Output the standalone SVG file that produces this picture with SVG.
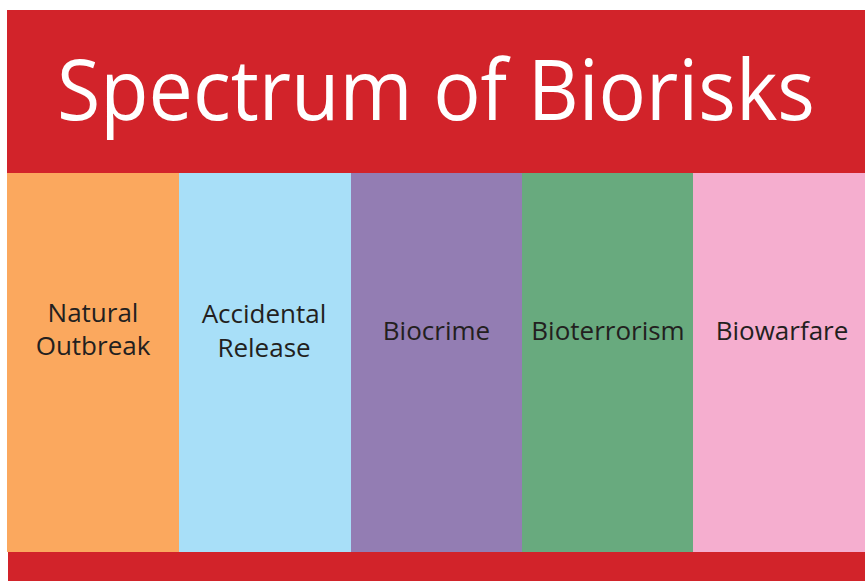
<svg xmlns="http://www.w3.org/2000/svg" width="865" height="581" viewBox="0 0 865 581">
<style>
.lbl{font-family:"Open Sans","Noto Sans",sans-serif;font-size:26px;fill:#231F20;text-anchor:middle}
.title{font-family:"Open Sans","Noto Sans",sans-serif;font-size:84px;fill:#FFFFFF}
</style>
<rect x="0" y="0" width="865" height="581" fill="#FFFFFF"/>
<g id="header">
<rect x="7" y="10" width="858" height="163" fill="#D2232A"/>
<text class="title" x="57" y="120" textLength="758" lengthAdjust="spacingAndGlyphs">Spectrum of Biorisks</text>
</g>
<g id="natural-outbreak">
<rect x="7" y="173" width="172" height="379" fill="#FBA85E"/>
<text class="lbl" x="93" y="322">Natural</text>
<text class="lbl" x="93" y="355">Outbreak</text>
</g>
<g id="accidental-release">
<rect x="179" y="173" width="172" height="379" fill="#A8DFF8"/>
<text class="lbl" x="264" y="323">Accidental</text>
<text class="lbl" x="264" y="357">Release</text>
</g>
<g id="biocrime">
<rect x="351" y="173" width="171" height="379" fill="#937DB3"/>
<text class="lbl" x="436.5" y="340">Biocrime</text>
</g>
<g id="bioterrorism">
<rect x="522" y="173" width="171" height="379" fill="#68AA7E"/>
<text class="lbl" x="608" y="340">Bioterrorism</text>
</g>
<g id="biowarfare">
<rect x="693" y="173" width="172" height="379" fill="#F5AECF"/>
<text class="lbl" x="782" y="340">Biowarfare</text>
</g>
<g id="footer">
<rect x="8" y="552" width="857" height="29" fill="#D2232A"/>
</g>
<g id="connectors"/>
</svg>
